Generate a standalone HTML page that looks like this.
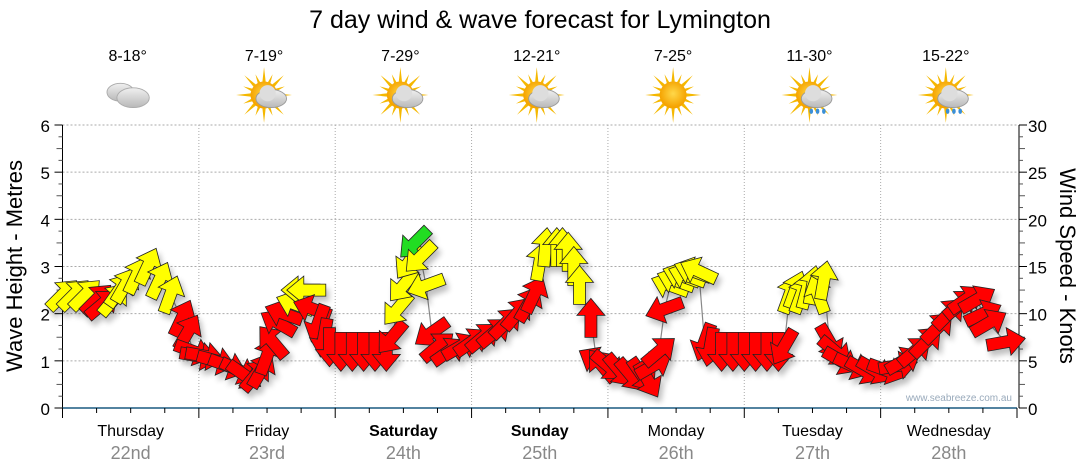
<!DOCTYPE html>
<html><head><meta charset="utf-8"><style>
body{margin:0;background:#fff;}
svg{display:block;font-family:"Liberation Sans",Arial,sans-serif;}
</style></head><body>
<svg id="c" width="1080" height="475" viewBox="0 0 1080 475">
<defs>
<filter id="sh" x="-50%" y="-50%" width="200%" height="200%"><feGaussianBlur in="SourceAlpha" stdDeviation="3"/><feOffset dx="3" dy="5"/><feComponentTransfer><feFuncA type="linear" slope="0.25"/></feComponentTransfer><feMerge><feMergeNode/><feMergeNode in="SourceGraphic"/></feMerge></filter>
<radialGradient id="sun" cx="50%" cy="45%" r="50%"><stop offset="0" stop-color="#ffd84a"/><stop offset="1" stop-color="#f5a300"/></radialGradient>
<linearGradient id="cl" x1="0" y1="0" x2="0" y2="1"><stop offset="0" stop-color="#f0f0f0"/><stop offset="1" stop-color="#b8b8b8"/></linearGradient>
</defs>
<text x="540" y="28" font-size="25" text-anchor="middle" fill="#000">7 day wind &amp; wave forecast for Lymington</text>
<g id="grid"></g><g id="axes"></g><g id="icons"></g>
<polyline id="wline" fill="none" stroke="#888" stroke-width="1.2"/>
<g id="arrows" filter="url(#sh)"></g>
<text x="1012" y="401" font-size="10" fill="#9ab" text-anchor="end">www.seabreeze.com.au</text>
<text transform="translate(22,266) rotate(-90)" font-size="22" text-anchor="middle">Wave Height - Metres</text>
<text transform="translate(1060,266) rotate(90)" font-size="22" text-anchor="middle">Wind Speed - Knots</text>
</svg>
<script>
const days=["Thursday","Friday","Saturday","Sunday","Monday","Tuesday","Wednesday"];
const dates=["22nd","23rd","24th","25th","26th","27th","28th"];
const temps=["8-18°","7-19°","7-29°","12-21°","7-25°","11-30°","15-22°"];
const icons=["cloud","suncloud","suncloud","suncloud","sun","rain","rain"];
const waveTicks=[0,1,2,3,4,5,6];
const knotTicks=[0,5,10,15,20,25,30];
const hours=[0,2,4,6,7,9,10,11,13,15,17,19,21,22,23,24,25,27,29,31,32,34,35,36,37,38,39,41,42,43,44,45,46,47,49,51,53,55,57,58,59,60,61,62,63,64,65,66,68,70,72,74,76,78,80,82,83,84,85,87,88,89,90,91,93,94,95,96,98,100,102,103,104,105,106,107,108,109,110,111,112,113,114,116,118,120,122,124,126,127,128,129,130,131,132,133,134,135,136,137,139,141,143,145,147,148,150,152,154,156,158,159,161,162,163,166];
const knots=[12,12,12,11.5,11,11.5,12.5,13,14,15,13.5,12,9.5,8,6,5.5,5.5,5,4.5,4,3.5,3.5,4,5.5,7,9,10,11,12.5,12.5,10.5,9,7.5,6.5,6,6,6,6,6,7.5,10.5,13,15.5,17.5,16,13,8,6.5,6,6.5,7,7.5,8,9,10,11,12,15.5,17,17,17,16.5,15,13,9.5,5,4.5,4.5,4,3.5,3.5,3,4.5,6,10.5,13,13.5,14,14,14.5,14.5,7,6.5,6,6,6,6,6,6,6.5,12,12.5,12,12.5,13,12,13.5,7,6,5,4.5,4,4,4,4.5,5,6,7,8.5,10,11,11.5,11.5,10,9,7];
const dirs=[45,45,45,45,50,40,35,30,25,25,25,20,25,30,110,100,100,105,110,115,125,40,30,20,-40,-60,-70,-70,-90,-90,-70,200,190,180,180,180,180,180,180,220,220,220,215,225,225,250,235,50,55,60,55,50,50,45,40,30,25,10,5,0,0,0,0,0,0,300,320,130,140,140,145,150,60,50,250,-70,-70,-70,-70,-70,-65,200,190,180,180,180,180,180,180,210,20,20,20,15,10,-20,10,150,130,120,115,120,120,110,80,60,50,45,45,45,50,55,60,65,60,80];
const colors=["Y","Y","Y","R","R","Y","Y","Y","Y","Y","Y","Y","R","R","R","R","R","R","R","R","R","R","R","R","R","R","R","Y","Y","Y","R","R","R","R","R","R","R","R","R","R","Y","Y","Y","G","Y","Y","R","R","R","R","R","R","R","R","R","R","R","Y","Y","Y","Y","Y","Y","Y","R","R","R","R","R","R","R","R","R","R","R","Y","Y","Y","Y","Y","Y","R","R","R","R","R","R","R","R","R","Y","Y","Y","Y","Y","Y","Y","R","R","R","R","R","R","R","R","R","R","R","R","R","R","R","R","R","R","R"];
const X0=62.5,X1=1017,Y0=408,Y1=125;
const xh=h=>X0+h*(X1-X0)/168;
const yW=m=>Y0-m*(Y0-Y1)/6;
const yK=k=>Y0-k*(Y0-Y1)/30;
const NS="http://www.w3.org/2000/svg";
function mk(tag,attrs,parent,txt){const e=document.createElementNS(NS,tag);for(const k in attrs)e.setAttribute(k,attrs[k]);if(txt!==undefined)e.textContent=txt;parent.appendChild(e);return e;}
const grid=document.getElementById('grid'),axes=document.getElementById('axes'),ic=document.getElementById('icons');
waveTicks.forEach(m=>{
  if(m>0){const l=mk('line',{x1:X0,x2:X1,y1:yW(m),y2:yW(m),stroke:'#aaa','stroke-dasharray':'2,2','stroke-width':1},grid);
  
  }
  const t=mk('text',{x:50,y:yW(m)+7,'font-size':17,'text-anchor':'end'},axes,m);
  
  
});
knotTicks.forEach(k=>{
  const t=mk('text',{x:1028,y:yK(k)+7,'font-size':17},axes,k);
  
  
});
mk('line',{x1:X0,x2:X0,y1:Y1,y2:Y0,stroke:'#000'},axes);
mk('line',{x1:X1+2,x2:X1+2,y1:Y1,y2:Y0,stroke:'#000'},axes);
mk('line',{x1:X0,x2:X1,y1:Y0,y2:Y0,stroke:'#1a5a80','stroke-width':1.5},axes);
for(let i=1;i<24;i++){const y=yW(i/4);const w=(i%4==0)?0:(i%2?4:6);if(w){mk('line',{x1:X0-w,x2:X0,y1:y,y2:y,stroke:'#555'},axes);mk('line',{x1:X1+2,x2:X1+2+w,y1:y,y2:y,stroke:'#555'},axes);}}
waveTicks.forEach(m=>{mk('line',{x1:X0-8,x2:X0,y1:yW(m),y2:yW(m),stroke:'#000'},axes);mk('line',{x1:X1+2,x2:X1+10,y1:yW(m),y2:yW(m),stroke:'#000'},axes);});
for(let h=0;h<=168;h+=6){const big=h%24==0;mk('line',{x1:xh(h),x2:xh(h),y1:Y0,y2:Y0+(big?10:5),stroke:'#000'},axes);}
days.forEach((d,i)=>{
  const cx=xh(i*24+12);
  if(i>0){const l=mk('line',{x1:xh(i*24),x2:xh(i*24),y1:Y1,y2:Y0,stroke:'#aaa','stroke-dasharray':'1,2'},grid);
  
  }
  const t=mk('text',{x:cx,y:436,'font-size':16,'text-anchor':'middle','font-weight':(d=="Saturday"||d=="Sunday")?'bold':'normal'},axes,d);
  
  
  const t2=mk('text',{x:cx,y:459,'font-size':18,'text-anchor':'middle',fill:'#888'},axes,dates[i]);
  
  
  const t3=mk('text',{x:cx-3,y:61,'font-size':16,'text-anchor':'middle'},ic,temps[i]);
  
  
  const g=mk('g',{transform:`translate(${cx-3},95) scale(0.9)`},ic);
  
  
  const k=icons[i];
  if(k!="cloud"){
    for(let a=0;a<360;a+=22.5){const r=(a%45==0)?27:21;mk('polygon',{points:`-3,0 3,0 0,-${r}`,fill:'#f5b800',transform:`rotate(${a}) translate(0,-4)`},g);}
    mk('circle',{cx:0,cy:0,r:15,fill:'url(#sun)'},g);
  }
  if(k=="cloud"){
    mk('ellipse',{cx:-8,cy:-3,rx:15,ry:10,fill:'url(#cl)',stroke:'#aaa'},g);
    mk('ellipse',{cx:6,cy:3,rx:18,ry:11,fill:'url(#cl)',stroke:'#aaa'},g);
  } else if(k!="sun"){
    mk('ellipse',{cx:8,cy:4,rx:17,ry:10,fill:'url(#cl)',stroke:'#999'},g);
    mk('circle',{cx:4,cy:-2,r:9,fill:'#ddd'},g);
    if(k=="rain"){for(let j=0;j<3;j++){mk('ellipse',{cx:2+j*7,cy:18,rx:2,ry:3,fill:'#3a8fd8'},g);}}
  }
});
const pts=[];
const ag=document.getElementById('arrows');
const fill={Y:'#ffff00',R:'#ff0000',G:'#22dd22'};
hours.forEach((h,i)=>{
  const x=xh(h),y=yK(knots[i]);pts.push(x.toFixed(1)+','+y.toFixed(1));
  const a=mk('polygon',{points:'0,-20 14,-3 6,-3 6,19 -6,19 -6,-3 -14,-3',fill:fill[colors[i]],stroke:'#222','stroke-width':0.8,'stroke-linejoin':'miter',transform:`translate(${x.toFixed(1)},${y.toFixed(1)}) rotate(${dirs[i]})`},ag);
  
  
});
document.getElementById('wline').setAttribute('points',pts.join(' '));
</script>
</body></html>
